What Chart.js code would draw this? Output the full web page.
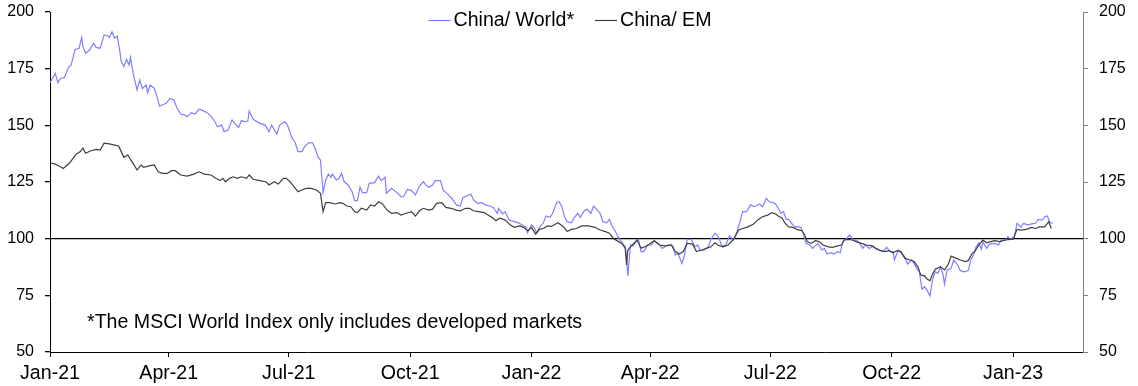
<!DOCTYPE html>
<html><head><meta charset="utf-8">
<script src="https://cdn.jsdelivr.net/npm/chart.js@4.4.1/dist/chart.umd.min.js"></script>
<style>html,body{margin:0;padding:0;background:#fff}#wrap{width:1138px;height:386px;position:relative}canvas{display:block}</style>
</head><body><div id="wrap"><canvas id="c" width="1138" height="386"></canvas></div>
<script>
// ---- data (days since 2021-01-01) ----
const seriesNames = ['China/ World*', 'China/ EM'];
const worldDays = [0,4,6,8,11,14,16,19,22,24, 25,27,30,33,35,38,41,44,45,47, 49,51,53,54,56,58,60,61,63,66,
 68,70,73,74,76,79,81,83,85,88, 91,94,96,99,102,104,107,110,113,116, 119,122,125,127,130,132,135,138,140,143,
 145,148,150,151,154,158,163,166,168,172, 174,178,180,183,186,188,191,193,196,199, 201,203,205,206,207,209,211,213,214,217,
 219,221,223,226,229,231,233,235,237,240, 242,246,249,251,254,255,259,263,266,268, 271,274,277,280,283,285,287,290,292,296,
 298,302,305,308,311,313,316,319,321,324, 327,330,333,336,339,340,343,345,348,352, 355,358,361,362,365,367,369,371,374,376,
 379,381,384,386,388,390,392,395,398,400, 402,405,407,410,412,415,417,419,422,424, 426,428,430,432,434,436,437,438,439,440,
 442,444,446,448,450,453,456,458,462,464, 467,469,472,474,476,479,481,483,486,489, 491,493,496,499,501,504,506,509,512,515,
 518,520,523,525,528,531,534,538,540,543, 545,548,550,552,554,556,558,560,562,565, 566,569,571,573,576,578,582,585,587,589,
 592,594,597,599,601,604,606,609,611,614, 616,618,621,624,626,629,632,634,637,639, 640,643,646,648,650,653,655,657,659,660,
 661,663,665,667,669,671,673,675,677,678, 680,683,685,688,690,693,696,698,700,702, 704,706,707,710,712,716,719,721,724,726,
 728,731,733,736,738,741,744,747,749,752, 754,756,758,760];
const worldVals = [168.8,172.9,168.8,170.7,171.2,175.6,176.6,183.5,184,188.8, 184.7,181.8,183.2,186.2,184.4,184,189.9,189.4,188.8,191.3,
 188.4,189.4,182.5,178.1,175.9,179.1,176.6,180,172.9,165.6, 170,166.3,167.8,164.4,167.8,166.3,162.9,158.5,159,159.7,
 161.9,161.2,158,155,154.6,153.8,155.6,155,157.1,156.5, 155.6,154.1,151.6,149.4,150.1,147.2,147.9,152.4,150.9,149.1,
 152,151.6,152,156.3,152.7,151.2,150.1,147.2,150.1,146.2, 150.1,151.6,150.1,145,142.1,138.4,138.4,140.6,142.3,142.3,
 139.9,136.2,134.7,127.3,120.3,125.9,128.5,127.1,128.5,125.9, 126.5,128.8,125.1,123.7,120.7,116.8,116.8,122.7,120.3,120.3,
 124.4,124.7,127.6,125.6,127.1,120,122.2,120.3,118.5,118.5, 121.8,121.2,119.3,123.2,125.1,123.7,122.7,123.7,125.6,125.6,
 121.5,119.3,117.4,114.9,114.4,118.2,118.8,119.7,117.1,115.6, 115.9,114.9,114.4,113.8,111.2,113.4,110.9,111.9,108.2,107.5,
 107,106,105,102.6,106,105,102.4,105,107,110, 109.4,111.2,115.9,116.3,114.1,109.7,107.5,107,109.7,111.2,
 109.4,112.3,113,111.2,114.4,112.6,111.2,107.5,107,108.5, 105.6,103.8,101.5,99.6,97.9,96.4,92,83.5,90.6,97.2,
 96.8,98.7,99.7,94.3,94.3,97.2,97.2,99.1,97.2,95.7, 96.8,97.2,96.8,92.8,93.5,89.1,92.8,99.7,99.7,96.4,
 97.2,94.7,95,96.4,99.7,102.4,101.6,97.2,96.8,101.2, 99.4,101.6,107.5,111.9,111.9,114.9,114.1,115.3,114.1,117.8,
 116.3,115.9,115.3,113.4,111.2,111.9,108.5,108.5,106.8,105, 105.4,105,102.4,97.9,97.2,95.7,97.9,95,95.7,93.2,
 93.8,93.2,94.3,93.8,98.7,100.2,101.6,99.4,99.4,97.9, 95.7,97.2,95.7,96.8,95.7,94.7,94.3,96.2,94.3,94.3,
 90.6,95,93.2,92,88.8,90.6,89.1,86.9,85.4,81, 77.7,78.8,77,74.7,82.1,85.4,84.7,87.4,84,80,
 86.2,86.9,90.6,88.4,85.9,85.4,85.9,90.6,92.8,96.4, 98.2,95.3,98.7,95.7,97.6,97.9,97.2,99.4,99.1,100.9,
 99.7,100.9,106.8,105,106.8,106,106.5,106.8,108.5,108.2, 109.7,110,107,107];
const emDays = [0,4,7,10,15,20,23,25,27,31, 35,38,41,45,49,52,54,56,59,61, 63,66,69,71,75,79,82,85,89,92,
 95,99,104,109,113,117,122,126,129,131, 133,136,139,142,145,149,151,154,159,164, 166,170,173,177,179,182,185,188,191,194,
 198,202,205,207,209,212,216,220,222,225, 228,231,233,236,240,243,246,249,252,256, 259,263,266,270,274,277,280,283,287,290,
 293,297,300,304,308,311,315,318,321,325, 329,332,335,338,341,345,349,352,356,359, 362,365,368,371,374,377,380,385,389,392,
 395,399,403,408,413,417,421,424,427,431, 434,436,437,438,440,443,445,448,451,455, 458,462,466,471,474,477,480,483,487,490,
 494,498,501,504,506,510,514,518,522,525, 529,533,537,540,544,547,550,552,555,557, 560,563,566,570,572,574,577,580,583,586,
 590,593,597,600,602,605,608,611,615,619, 623,626,630,633,636,639,642,645,648,652, 655,658,660,663,665,667,669,671,675,678,
 681,683,687,690,694,696,699,701,704,707, 710,713,716,720,724,728,730,733,736,740, 744,747,750,754,757,759];
const emVals = [133.5,132.9,132.1,131,133.5,137.4,138.4,139.9,137.7,138.8, 139.4,139.1,142.1,141.8,141.3,140.9,138.4,135.9,136.9,135,
 133.2,130.3,132.5,131.5,132.1,132.5,129.5,128.8,128.8,130, 130,128.1,127.6,128.5,129.5,128.5,128.1,126.5,125.6,126.6,
 125.1,126.6,127.3,126.6,127.3,126.6,128.1,126.2,125.6,125, 123.7,125.1,124.1,126.6,126.6,125.1,122.9,120.7,121.5,122.2,
 122.2,121.5,120,111.9,115.9,115.9,115.3,115.9,115.6,114.4, 114.1,111.9,111.5,113.4,112.6,114.9,114.4,116.3,115.3,112.3,
 111.2,111.5,110.4,111.2,111.9,110,112.3,113.4,112.6,113, 115.6,115.9,113.8,113.4,112.6,112.3,113.4,113.4,112.3,111.9,
 111.5,110.4,109.4,107.9,109,108.2,106,105,105.6,105, 103.5,105,102.1,104.1,104.5,105.6,105.4,107,105.4,103.2,
 104.1,104.5,105.6,105.6,105,103.8,103.1,102.4,100.1,98.7, 97.6,95.8,88.4,95,96.4,98.2,99.4,95.8,96.4,97.9,
 99.1,97.2,96.8,97.2,94.3,93.2,94.3,97.9,97.6,94.3, 95,95.8,96.4,98.2,97.2,96.4,97.2,99.7,103.8,104.5,
 105.2,106.4,108.5,109.7,110.4,111.5,110.9,110,109,107, 105.2,105,104.1,103.5,101.6,98.7,97.9,99.1,98.7,97.2,
 96.4,96.2,96.8,97.2,99.4,99.7,99.4,98.7,97.9,97.2, 96.8,95.7,94.7,94.3,94.7,93.8,94.7,94.3,91.3,90.6,
 89.9,87.4,84,83.5,82.1,81.5,84.4,86.5,87.6,86.2, 88.8,92.3,91.3,90.6,89.9,90.3,93.5,94.3,97.2,99.4,
 98.2,98.7,99.1,98.7,99.4,99.7,99.7,104.1,103.8,104.1, 105,104.5,105.2,105.2,107.5,104.5];
const tickDays = [0,90,181,273,365,455,546,638,730];
const tickLabels = ['Jan-21','Apr-21','Jul-21','Oct-21','Jan-22','Apr-22','Jul-22','Oct-22','Jan-23'];
const footnote = '*The MSCI World Index only includes developed markets';

// ---- rendering ----
const FONT = "'Liberation Sans', Arial, sans-serif";
const colors = ['#7f7fff', '#404040'];
const toXY = (d, v) => d.map((x, i) => ({x: x, y: v[i]}));

const overlay = {
  id: 'overlay',
  afterDraw(chart) {
    const ctx = chart.ctx;
    ctx.save();
    ctx.font = '19.6px ' + FONT;
    ctx.fillStyle = '#000';
    ctx.textBaseline = 'middle';
    const lineW = 22, gapT = 3, gapI = 21;
    const ds = chart.data.datasets;
    const widths = ds.map(d => ctx.measureText(d.label).width);
    const total = widths.reduce((a, w) => a + lineW + gapT + w, 0) + gapI * (ds.length - 1);
    let x = chart.width / 2 - total / 2 + 1;
    const y = 20.5;
    ds.forEach((d, i) => {
      ctx.strokeStyle = d.borderColor;
      ctx.lineWidth = 1.2;
      ctx.beginPath(); ctx.moveTo(x, y); ctx.lineTo(x + lineW, y); ctx.stroke();
      x += lineW + gapT;
      ctx.fillText(d.label, x, y);
      x += widths[i] + gapI;
    });
    ctx.fillText(footnote, 87, 323);
    ctx.restore();
  }
};

const fitY = w => s => { s.width = w; s.paddingTop = 0; s.paddingBottom = 0; };

new Chart(document.getElementById('c'), {
  type: 'line',
  data: {
    datasets: [
      {label: seriesNames[0], data: toXY(worldDays, worldVals), borderColor: colors[0], borderWidth: 1.2, pointRadius: 0, tension: 0, order: 1, yAxisID: 'y'},
      {label: seriesNames[1], data: toXY(emDays, emVals), borderColor: colors[1], borderWidth: 1.2, pointRadius: 0, tension: 0, order: 0, yAxisID: 'y'}
    ]
  },
  options: {
    responsive: false, animation: false, devicePixelRatio: 1, events: [],
    layout: {padding: {top: 12, left: 0, right: 0, bottom: 0}},
    plugins: {legend: {display: false}, tooltip: {enabled: false}},
    scales: {
      x: {
        type: 'linear', position: 'bottom', min: 0, max: 783,
        afterBuildTicks: s => { s.ticks = tickDays.map(v => ({value: v})); },
        afterFit: s => { s.height = 34; s.paddingLeft = 0; s.paddingRight = 0; },
        grid: {drawOnChartArea: false, drawTicks: true, tickLength: 5, tickColor: '#000', lineWidth: 1},
        border: {color: '#000', width: 1},
        ticks: {autoSkip: false, maxRotation: 0, padding: 5, color: '#000', font: {family: FONT, size: 19.6},
          callback: v => tickLabels[tickDays.indexOf(v)]}
      },
      y: {
        position: 'left', min: 50, max: 200,
        afterFit: fitY(50),
        grid: {drawOnChartArea: true, drawTicks: true, tickLength: 5, tickColor: '#000', lineWidth: 1.3,
          color: c => (c.tick && c.tick.value === 100) ? '#000' : 'rgba(0,0,0,0)'},
        border: {color: '#000', width: 1},
        ticks: {stepSize: 25, padding: 11, color: '#000', font: {family: FONT, size: 16}}
      },
      y2: {
        position: 'right', min: 50, max: 200,
        afterFit: fitY(55),
        grid: {drawOnChartArea: false, drawTicks: true, tickLength: 5, tickColor: '#808080'},
        border: {color: '#808080', width: 1},
        ticks: {stepSize: 25, padding: 11, color: '#000', font: {family: FONT, size: 16}}
      }
    }
  },
  plugins: [overlay]
});
</script></body></html>
